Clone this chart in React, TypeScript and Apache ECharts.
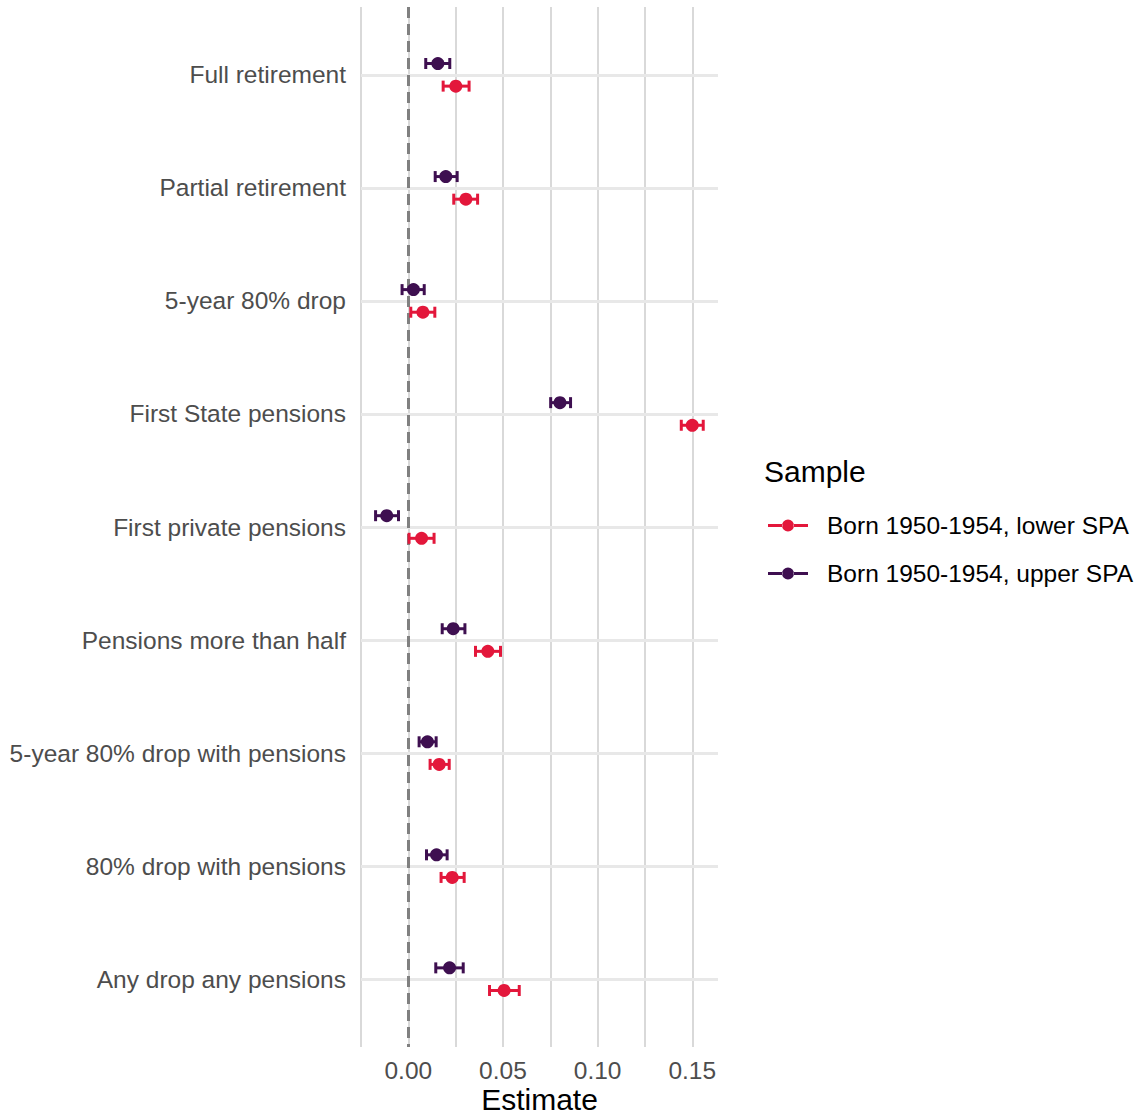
import React, { useEffect, useRef } from "react";
import * as echarts from "echarts";

const categories = [
  "Full retirement",
  "Partial retirement",
  "5-year 80% drop",
  "First State pensions",
  "First private pensions",
  "Pensions more than half",
  "5-year 80% drop with pensions",
  "80% drop with pensions",
  "Any drop any pensions",
];

const seriesNames = ["Born 1950-1954, lower SPA", "Born 1950-1954, upper SPA"];

// lower SPA: estimate, lower CI, upper CI
const lowerEst = [0.0251, 0.0304, 0.0077, 0.15, 0.007, 0.042, 0.0163, 0.0232, 0.0506];
const lowerLo = [0.0184, 0.024, 0.0013, 0.1442, 0.0004, 0.0355, 0.0115, 0.0173, 0.0429];
const lowerHi = [0.0321, 0.0366, 0.014, 0.1558, 0.0136, 0.0487, 0.0216, 0.0295, 0.0586];

// upper SPA
const upperEst = [0.0156, 0.0198, 0.0027, 0.0801, -0.0114, 0.0237, 0.0101, 0.0149, 0.0218];
const upperLo = [0.0092, 0.0142, -0.0033, 0.0752, -0.0173, 0.0179, 0.0057, 0.0096, 0.0145];
const upperHi = [0.0219, 0.0258, 0.0084, 0.0857, -0.0052, 0.0299, 0.0147, 0.0205, 0.029];

const xGridValues = [-0.025, 0, 0.025, 0.05, 0.075, 0.1, 0.125, 0.15];

const RED = "#E3173B";
const PURPLE = "#3E0F50";
const FONT = "Liberation Sans, Arial, sans-serif";

const legendIcon =
  "path://M0,5 L14.5,5 L14.5,8 L0,8 Z M25.5,5 L40,5 L40,8 L25.5,8 Z M14,6.5 A6,6 0 1,0 26,6.5 A6,6 0 1,0 14,6.5 Z";

export default function App() {
  const ref = useRef<HTMLDivElement>(null);

  useEffect(() => {
    if (!ref.current) return;
    const chart = echarts.init(ref.current, undefined, { renderer: "svg" });

    const offsets = [0.1, -0.1];
    const groups = [
      { est: lowerEst, lo: lowerLo, hi: lowerHi, color: RED },
      { est: upperEst, lo: upperLo, hi: upperHi, color: PURPLE },
    ];

    const errData = groups.map((g, gi) =>
      categories.map((_, i) => [g.est[i], g.lo[i], g.hi[i], i + 1 + offsets[gi]])
    );
    const ptData = groups.map((g, gi) =>
      categories.map((_, i) => [g.est[i], i + 1 + offsets[gi]])
    );

    const renderItem = (color: string) => (params: any, api: any) => {
      const lo = api.coord([api.value(1), api.value(3)]);
      const hi = api.coord([api.value(2), api.value(3)]);
      const h = 5.5;
      const style = { stroke: color, lineWidth: 3 };
      return {
        type: "group",
        children: [
          { type: "line", shape: { x1: lo[0], y1: lo[1], x2: hi[0], y2: hi[1] }, style },
          { type: "line", shape: { x1: lo[0], y1: lo[1] - h, x2: lo[0], y2: lo[1] + h }, style },
          { type: "line", shape: { x1: hi[0], y1: hi[1] - h, x2: hi[0], y2: hi[1] + h }, style },
        ],
      };
    };

    const gridLines: any[] = [
      ...xGridValues.map((v) => ({
        xAxis: v,
        lineStyle: { color: "#d9d9d9", width: 2, type: "solid" },
      })),
      ...categories.map((_, i) => ({
        yAxis: i + 1,
        lineStyle: { color: "#e8e8e8", width: 3, type: "solid" },
      })),
      {
        xAxis: 0,
        lineStyle: { color: "#808080", width: 3, type: [11, 6] },
      },
    ];

    const option: any = {
      animation: false,
      textStyle: { fontFamily: FONT },
      title: {
        text: "Sample",
        left: 764,
        top: 456,
        padding: 0,
        textStyle: { fontSize: 30, fontWeight: "normal", color: "#000", fontFamily: FONT },
      },
      legend: {
        orient: "vertical",
        left: 763,
        top: 508,
        itemWidth: 40,
        itemHeight: 12,
        itemGap: 23,
        data: seriesNames.map((n) => ({ name: n, icon: legendIcon })),
        textStyle: { fontSize: 24.5, color: "#000", fontFamily: FONT, padding: [0, 0, 0, 14] },
      },
      grid: {
        left: 361,
        right: 424,
        top: 7,
        bottom: 68,
        containLabel: false,
        outerBoundsMode: "none",
      },
      xAxis: {
        type: "value",
        min: -0.025,
        max: 0.1636,
        interval: 0.025,
        axisLine: { show: false },
        axisTick: { show: false },
        splitLine: { show: false },
        axisLabel: {
          fontSize: 24.5,
          lineHeight: 24,
          color: "#4d4d4d",
          margin: 11,
          fontFamily: FONT,
          formatter: (v: number) => {
            const k = v / 0.05;
            if (v < -1e-9 || Math.abs(k - Math.round(k)) > 1e-6) return "";
            return v.toFixed(2);
          },
        },
        name: "Estimate",
        nameLocation: "middle",
        nameGap: 38,
        nameMoveOverlap: false,
        nameTextStyle: { fontSize: 30, lineHeight: 28, color: "#000", fontFamily: FONT },
      },
      yAxis: {
        type: "value",
        inverse: true,
        min: 0.4,
        max: 9.6,
        interval: 0.2,
        axisLine: { show: false },
        axisTick: { show: false },
        splitLine: { show: false },
        axisLabel: {
          fontSize: 24.5,
          color: "#4d4d4d",
          margin: 15,
          fontFamily: FONT,
          formatter: (v: number) => {
            const r = Math.round(v);
            if (Math.abs(v - r) > 1e-6 || r < 1 || r > categories.length) return "";
            return categories[r - 1];
          },
        },
      },
      series: [
        {
          type: "scatter",
          name: seriesNames[0],
          data: ptData[0],
          symbolSize: 13,
          itemStyle: { color: RED, opacity: 1 },
          z: 6,
          markLine: {
            silent: true,
            symbol: "none",
            precision: 5,
            z: 1,
            label: { show: false },
            emphasis: { disabled: true },
            data: gridLines,
          },
        },
        {
          type: "scatter",
          name: seriesNames[1],
          data: ptData[1],
          symbolSize: 13,
          itemStyle: { color: PURPLE, opacity: 1 },
          z: 6,
        },
        {
          type: "custom",
          name: seriesNames[0],
          renderItem: renderItem(RED),
          data: errData[0],
          encode: { x: [0, 1, 2], y: 3 },
          itemStyle: { color: RED },
          z: 5,
        },
        {
          type: "custom",
          name: seriesNames[1],
          renderItem: renderItem(PURPLE),
          data: errData[1],
          encode: { x: [0, 1, 2], y: 3 },
          itemStyle: { color: PURPLE },
          z: 5,
        },
      ],
    };

    chart.setOption(option);
    return () => chart.dispose();
  }, []);

  return (
    <div
      ref={ref}
      style={{ position: "fixed", left: 0, top: 0, width: 1142, height: 1115, background: "#fff" }}
    />
  );
}
